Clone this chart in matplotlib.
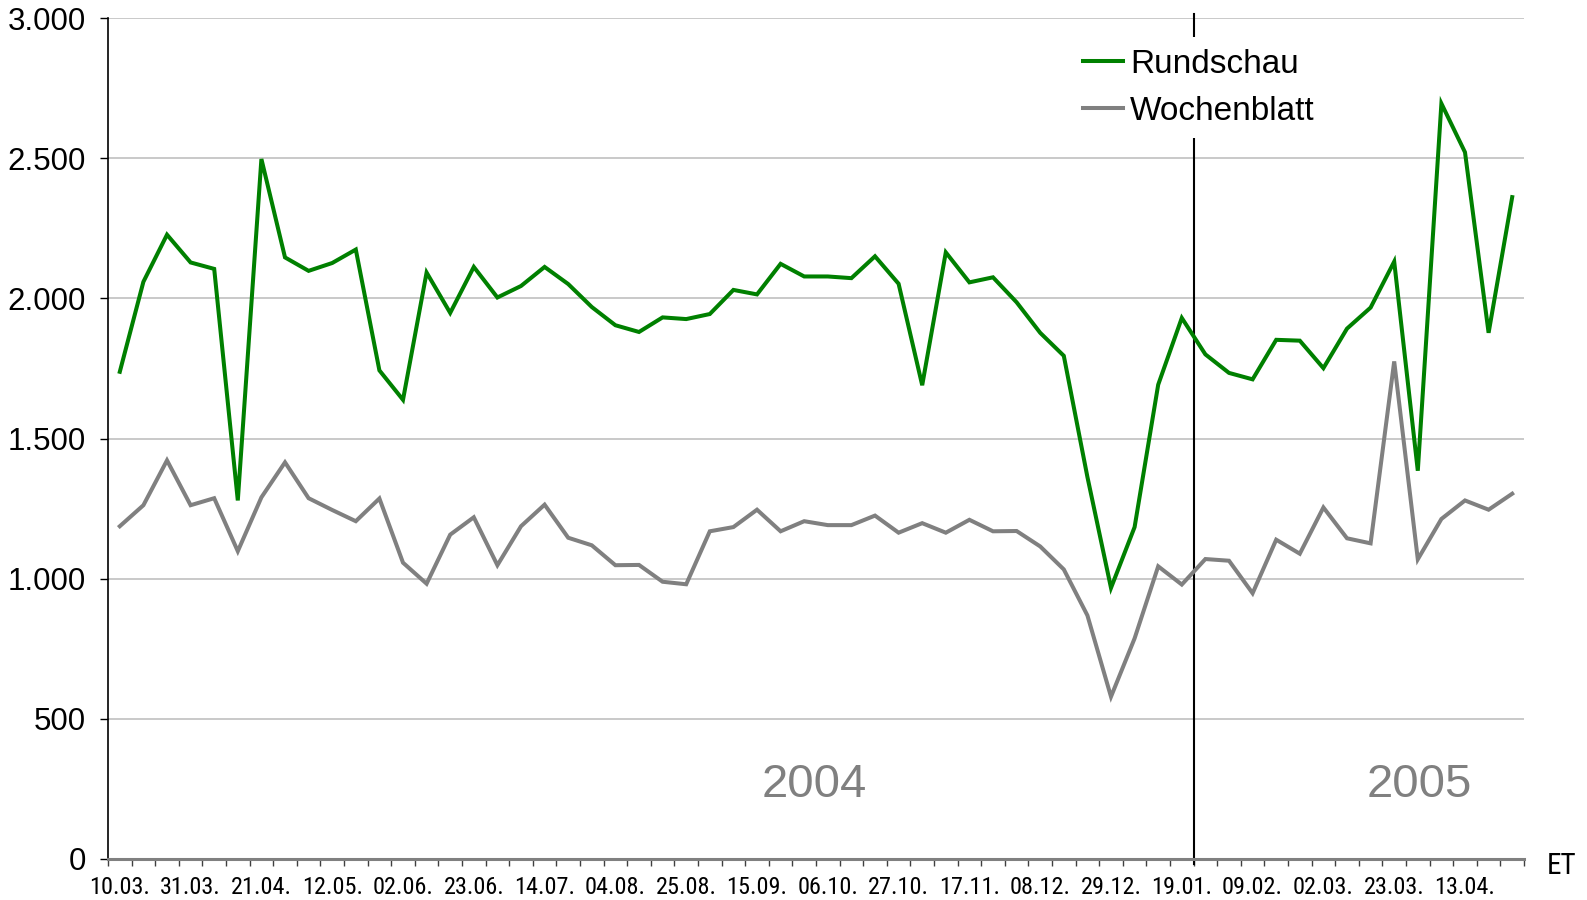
import matplotlib
matplotlib.use("Agg")
import matplotlib.pyplot as plt
from matplotlib.ticker import FuncFormatter, FixedLocator
import matplotlib.font_manager as fm

rundschau = [1738, 2059, 2227, 2128, 2105, 1279, 2497, 2146, 2098, 2126,
             2174, 1743, 1638, 2092, 1948, 2112, 2003, 2044, 2112, 2051,
             1969, 1904, 1880, 1932, 1926, 1944, 2030, 2014, 2123, 2078,
             2078, 2072, 2150, 2052, 1690, 2164, 2057, 2075, 1986, 1877,
             1795, 1363, 967, 1184, 1692, 1930, 1800, 1734, 1711, 1852,
             1849, 1751, 1892, 1967, 2131, 1385, 2695, 2521, 1877, 2361]
wochenblatt = [1187, 1262, 1422, 1262, 1287, 1098, 1290, 1415, 1287, 1245,
               1205, 1286, 1057, 982, 1157, 1219, 1048, 1187, 1264, 1146,
               1119, 1048, 1049, 989, 980, 1169, 1184, 1246, 1169, 1205,
               1191, 1191, 1225, 1164, 1198, 1164, 1210, 1169, 1170, 1115,
               1033, 869, 579, 787, 1044, 979, 1070, 1064, 948, 1139,
               1089, 1254, 1144, 1126, 1775, 1069, 1213, 1279, 1246, 1303]
tick_labels = ["10.03.", "31.03.", "21.04.", "12.05.", "02.06.", "23.06.",
               "14.07.", "04.08.", "25.08.", "15.09.", "06.10.", "27.10.",
               "17.11.", "08.12.", "29.12.", "19.01.", "09.02.", "02.03.",
               "23.03.", "13.04."]
series_names = ["Rundschau", "Wochenblatt"]
year_labels = ["2004", "2005"]
year_break_index = 45  # 19.01.


def upright_regular(f):
    fn = f.fname.lower()
    bad = ("italic", "oblique", "bold", "light", "thin", "medium", "black", "semi", "extra")
    return f.style == "normal" and f.weight in (400, "normal", "regular") \
        and not any(b in fn for b in bad)


cond_prop = None
for names in (("Liberation Sans Narrow", "Arial Narrow"),
              ("Roboto Condensed", "Open Sans Condensed")):
    for f in fm.fontManager.ttflist:
        if f.name in names and upright_regular(f):
            cond_prop = fm.FontProperties(fname=f.fname)
            break
    if cond_prop is not None:
        break
if cond_prop is None:
    for f in fm.fontManager.ttflist:
        fn = f.fname.lower()
        if ("condensed" in fn or "narrow" in fn or "condensed" in str(f.stretch).lower()) \
                and upright_regular(f):
            cond_prop = fm.FontProperties(fname=f.fname)
            break

plt.rcParams["font.family"] = ["Liberation Sans", "DejaVu Sans"]

W, H = 1587, 900
fig = plt.figure(figsize=(W / 100, H / 100), dpi=100)
ax = fig.add_axes([108 / W, 1 - 859 / H, (1524 - 108) / W, (859 - 18) / H])

n = len(rundschau)
x = list(range(n))
ax.plot(x, rundschau, color="#008000", lw=2.9, label=series_names[0], zorder=3,
        solid_joinstyle="miter")
ax.plot(x, wochenblatt, color="#808080", lw=2.9, label=series_names[1], zorder=3,
        solid_joinstyle="miter")

ax.set_xlim(-0.5, n - 0.5)
ax.set_ylim(0, 3000)

# y axis
ax.set_yticks(range(0, 3001, 500))
ax.yaxis.set_major_formatter(FuncFormatter(lambda v, p: f"{int(v):,}".replace(",", ".")))
ax.yaxis.grid(True, color="#c0c0c0", lw=1.2)
ax.set_axisbelow(True)
ax.tick_params(axis="y", direction="out", length=6, width=1, colors="black",
               labelsize=22.5, pad=10)

# x axis: tick marks at category boundaries, labels every 3rd category
ax.xaxis.set_major_locator(FixedLocator([i - 0.5 for i in range(n + 1)]))
ax.xaxis.set_major_formatter(FuncFormatter(lambda v, p: ""))
ax.xaxis.set_minor_locator(FixedLocator(list(range(0, n, 3))))
ax.set_xticklabels(tick_labels, minor=True)
ax.tick_params(axis="x", which="major", direction="out", length=5, width=1,
               colors="#404040")
ax.tick_params(axis="x", which="minor", length=0, pad=12, labelsize=17)
lbl_size = 17.5
if cond_prop is None:
    lbl_size = 14
for lab in ax.get_xticklabels(minor=True):
    if cond_prop is not None:
        lab.set_fontproperties(cond_prop)
    lab.set_fontsize(lbl_size)

for s in ["top", "right"]:
    ax.spines[s].set_visible(False)
ax.spines["left"].set_color("black")
ax.spines["left"].set_linewidth(1.2)
ax.spines["bottom"].set_color("#808080")
ax.spines["bottom"].set_linewidth(2.2)

ax.axvline(year_break_index + 0.5, ymin=-0.006, ymax=1.005, color="black",
           lw=1.5, clip_on=False, zorder=2)

fig.text(814 / W, 1 - 785 / H, year_labels[0], ha="center", va="center",
         fontsize=34, color="#808080")
fig.text(1419 / W, 1 - 785 / H, year_labels[1], ha="center", va="center",
         fontsize=34, color="#808080")
et = fig.text(1562 / W, 1 - 866 / H, "ET", ha="center", va="center")
if cond_prop is not None:
    et.set_fontproperties(cond_prop)
et.set_fontsize(21 if cond_prop is not None else 17)

leg = ax.legend(loc="upper left", bbox_to_anchor=(1071 / W, 1 - 37 / H),
                bbox_transform=fig.transFigure, borderaxespad=0,
                fontsize=24, handlelength=1.2, handletextpad=0.22,
                labelspacing=0.48, frameon=True, fancybox=False,
                framealpha=1, facecolor="white", edgecolor="none",
                borderpad=0.35)
leg.set_zorder(5)

fig.savefig("out.png", dpi=100)
